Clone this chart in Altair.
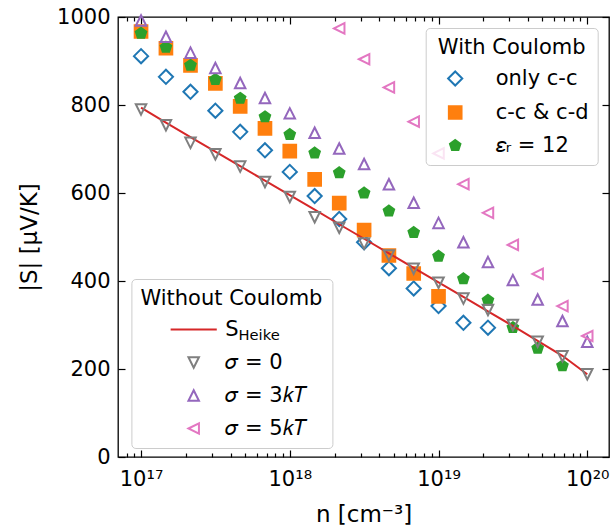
import altair as alt
import pandas as pd

# ---------------- data ----------------
n_vals = [1.00e17, 1.47e17, 2.15e17, 3.16e17, 4.64e17, 6.81e17,
          1.00e18, 1.47e18, 2.15e18, 3.16e18, 4.64e18, 6.81e18,
          1.00e19, 1.47e19, 2.15e19, 3.16e19, 4.64e19, 6.81e19, 1.00e20]

heike = [794, 760, 727, 694, 661, 628, 595, 562, 529, 496, 463, 430, 397, 364, 331, 298, 264, 230, 188]
sigma0 = [790, 754, 714, 688, 660, 625, 591, 545, 521, 485, 458, 428, 396, 360, 334, 300, 262, 229, 188]
sigma3 = [992, 955, 919, 884, 850, 816, 781, 737, 701, 666, 620, 578, 532, 488, 443, 402, 358, 309, 262]
sigma5 = [974, 904, 840, 762, 690, 620, 555, 482, 416, 343, 275]          # from n index 8
only_cc = [911, 864, 830, 787, 739, 697, 648, 593, 541, 488, 429, 383, 343, 305, 294]
cc_cd = [967, 929, 890, 849, 797, 747, 695, 631, 577, 516, 458, 417, 365]
eps12 = [963, 931, 890, 858, 815, 773, 733, 691, 646, 600, 559, 510, 456, 405, 356, 294, 247, 207]

with_names = ["only c-c", "c-c & c-d", "𝜀ᵣ = 12"]
without_names = ["S", "𝜎 = 0", "𝜎 = 3𝑘𝑇", "𝜎 = 5𝑘𝑇"]

x_major = [1e17, 1e18, 1e19, 1e20]
x_ticks = [8e16, 9e16,
           1e17, 2e17, 3e17, 4e17, 5e17, 6e17, 7e17, 8e17, 9e17,
           1e18, 2e18, 3e18, 4e18, 5e18, 6e18, 7e18, 8e18, 9e18,
           1e19, 2e19, 3e19, 4e19, 5e19, 6e19, 7e19, 8e19, 9e19, 1e20]
y_ticks = [0, 200, 400, 600, 800, 1000]

# ---------------- tables ----------------
def rows(vals, name, start=0):
    return [{"n": n_vals[start + i], "S": v, "series": name} for i, v in enumerate(vals)]

df_with = pd.DataFrame(rows(only_cc, with_names[0]) + rows(cc_cd, with_names[1]) + rows(eps12, with_names[2]))
df_without = pd.DataFrame(rows(sigma0, without_names[1]) + rows(sigma3, without_names[2]) +
                          rows(sigma5, without_names[3], 8))
df_line = pd.DataFrame(rows(heike, without_names[0]))

FONT = "DejaVu Sans"
W, H = 491, 440
blue, orange, green, red, purple, gray, pink = "#1f77b4", "#ff7f0e", "#2ca02c", "#d62728", "#9467bd", "#7f7f7f", "#e377c2"
pent = "M0,-1L0.951,-0.309L0.588,0.809L-0.588,0.809L-0.951,-0.309Z"
tri_up = "M0,-1L1,1L-1,1Z"
tri_down = "M0,1L1,-1L-1,-1Z"
tri_left = "M-1,0L1,-1L1,1Z"
hline = "M-4.4,0L4.4,0"

x_scale = alt.Scale(type="log", domain=[7e16, 1.4e20], nice=False)
y_scale = alt.Scale(domain=[0, 1000], nice=False, zero=False)

major_test = "abs(log(datum.value)/LN10 - round(log(datum.value)/LN10)) < 0.01"
tsize = {"condition": {"test": major_test, "value": 7}, "value": 4}

lbl_expr = ("datum.value < 5e17 ? '10¹⁷' : datum.value < 5e18 ? '10¹⁸' : "
            "datum.value < 5e19 ? '10¹⁹' : '10²⁰'")

x_axis_lab = alt.Axis(orient="bottom", values=x_major, labelExpr=lbl_expr, ticks=False, tickSize=0,
                      domain=False, grid=False, labelPadding=11, labelFont=FONT, labelFontSize=21,
                      labelColor="black", labelFlush=False, title="n [cm⁻³]", titleFont=FONT,
                      titleFontSize=23, titleFontWeight="normal", titleColor="black",
                      titleBaseline="alphabetic", titleX=W / 2, titleY=64)
x_axis_in_bottom = alt.Axis(orient="top", offset=-H, values=x_ticks, tickSize=tsize, labels=False,
                            domain=False, grid=False, title="", tickColor="black", tickWidth=1.2)
x_axis_in_top = alt.Axis(orient="bottom", offset=-H, values=x_ticks, tickSize=tsize, labels=False,
                         domain=False, grid=False, title="", tickColor="black", tickWidth=1.2)

y_axis_lab = alt.Axis(orient="left", values=y_ticks, format="d", ticks=False, tickSize=0, domain=False,
                      grid=False, labelPadding=8, labelFont=FONT, labelFontSize=21, labelColor="black",
                      labelFlush=False, title="|S| [μV/K]", titleFont=FONT, titleFontSize=23,
                      titleFontWeight="normal", titleColor="black", titleBaseline="alphabetic",
                      titleX=-82, titleY=H / 2)
y_axis_in_left = alt.Axis(orient="right", offset=-W, values=y_ticks, tickSize=7, labels=False,
                          domain=False, grid=False, title="", tickColor="black", tickWidth=1.2)
y_axis_in_right = alt.Axis(orient="left", offset=-W, values=y_ticks, tickSize=7, labels=False,
                           domain=False, grid=False, title="", tickColor="black", tickWidth=1.2)

common_leg = dict(orient="none", padding=9, titleFont=FONT, titleFontSize=21, titleFontWeight="normal",
                  titleColor="black", titleAnchor="middle", titlePadding=10, titleLimit=400,
                  labelFont=FONT, labelFontSize=21, labelColor="black", rowPadding=11,
                  fillColor="rgba(255,255,255,0.8)", strokeColor="#cccccc", cornerRadius=4,
                  symbolStrokeWidth=2, labelLimit=300)

leg_with = alt.Legend(title="With Coulomb", legendX=307.7, legendY=11, symbolOffset=10,
                      labelOffset=30, **common_leg)
leg_without = alt.Legend(title="Without Coulomb", legendX=13.4, legendY=262, symbolOffset=27.8,
                         labelOffset=21, symbolSize=110, **common_leg)

p_with = alt.Chart(df_with).mark_point(filled=True, opacity=1, strokeWidth=2).encode(
    x=alt.X("n:Q", scale=x_scale, axis=x_axis_lab),
    y=alt.Y("S:Q", scale=y_scale, axis=y_axis_lab),
    shape=alt.Shape("series:N", scale=alt.Scale(domain=with_names, range=["diamond", "square", pent]),
                    legend=leg_with),
    fill=alt.Fill("series:N", scale=alt.Scale(domain=with_names, range=["transparent", orange, green]),
                  legend=leg_with),
    stroke=alt.Stroke("series:N", scale=alt.Scale(domain=with_names, range=[blue, orange, green]),
                      legend=leg_with),
    size=alt.Size("series:N", scale=alt.Scale(domain=with_names, range=[200, 121, 110]), legend=leg_with),
)

line = alt.Chart(df_line).mark_line(color=red, strokeWidth=2).encode(
    x=alt.X("n:Q", scale=x_scale, axis=x_axis_in_bottom),
    y=alt.Y("S:Q", scale=y_scale, axis=y_axis_in_left),
)

p_without = alt.Chart(df_without).mark_point(filled=False, opacity=1, strokeWidth=2, size=110).encode(
    x=alt.X("n:Q", scale=x_scale, axis=x_axis_in_top),
    y=alt.Y("S:Q", scale=y_scale, axis=y_axis_in_right),
    shape=alt.Shape("series:N", scale=alt.Scale(domain=without_names,
                                                range=[hline, tri_down, tri_up, tri_left]),
                    legend=leg_without),
    stroke=alt.Stroke("series:N", scale=alt.Scale(domain=without_names, range=[red, gray, purple, pink]),
                      legend=leg_without),
)

chart = alt.layer(p_with, line, p_without).resolve_axis(
    x="independent", y="independent"
).resolve_scale(
    shape="independent", stroke="independent", fill="independent", size="independent"
).properties(
    width=W, height=H,
    autosize=alt.AutoSizeParams(type="none"),
    padding={"left": 118, "top": 17, "right": 7, "bottom": 71},
    title=alt.Title(text="Heike", fontSize=14.7, font=FONT, fontWeight="normal", color="black",
                    anchor="start", frame="group", orient="top", offset=0, dx=120.5, dy=348.7,
                    baseline="alphabetic"),
).configure_view(stroke="black", strokeWidth=1.3)

chart.save("out.html", embed_options={"renderer": "svg", "actions": False})
